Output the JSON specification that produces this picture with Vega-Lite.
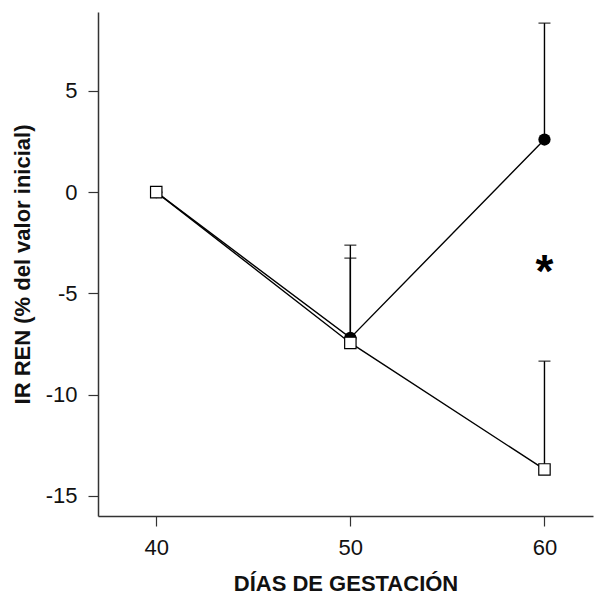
{
  "$schema": "https://vega.github.io/schema/vega-lite/v6.json",
  "width": 495,
  "height": 504,
  "autosize": "none",
  "padding": {"left": 98, "top": 12, "right": 1, "bottom": 84},
  "background": "white",
  "config": {
    "view": {"stroke": null},
    "font": "Liberation Sans",
    "axis": {
      "grid": false,
      "domainColor": "#333",
      "domainWidth": 1.5,
      "tickColor": "#333",
      "tickWidth": 1.2,
      "tickSize": 10,
      "labelFont": "Liberation Sans",
      "labelFontSize": 22,
      "labelColor": "#111",
      "titleFont": "Liberation Sans",
      "titleFontSize": 22,
      "titleFontWeight": "bold",
      "titleColor": "#111"
    }
  },
  "data": {
    "values": [
      {"grupo": "A", "dias": 40, "valor": 0, "sup": 0},
      {"grupo": "A", "dias": 50, "valor": -7.2, "sup": -2.62},
      {"grupo": "A", "dias": 60, "valor": 2.6, "sup": 8.35},
      {"grupo": "B", "dias": 40, "valor": 0, "sup": 0},
      {"grupo": "B", "dias": 50, "valor": -7.45, "sup": -3.26},
      {"grupo": "B", "dias": 60, "valor": -13.7, "sup": -8.35}
    ]
  },
  "encoding": {
    "x": {
      "field": "dias",
      "type": "quantitative",
      "scale": {"domain": [37, 62.5], "nice": false, "zero": false},
      "axis": {"values": [40, 50, 60], "title": "DÍAS DE GESTACIÓN", "labelPadding": 11, "titlePadding": 15}
    }
  },
  "layer": [
    {
      "mark": {"type": "line", "color": "black", "strokeWidth": 1.4},
      "encoding": {
        "y": {
          "field": "valor",
          "type": "quantitative",
          "scale": {"domain": [-16, 8.9], "nice": false, "zero": false},
          "axis": {"values": [-15, -10, -5, 0, 5], "title": "IR REN (% del valor inicial)", "labelPadding": 11, "titlePadding": 11, "labelExpr": "replace(datum.label, '−', '-')"}
        },
        "detail": {"field": "grupo"}
      }
    },
    {
      "transform": [{"filter": "datum.dias > 40"}],
      "mark": {"type": "rule", "color": "black", "strokeWidth": 1.4},
      "encoding": {
        "y": {"field": "valor", "type": "quantitative"},
        "y2": {"field": "sup"}
      }
    },
    {
      "transform": [{"filter": "datum.dias > 40"}],
      "mark": {"type": "tick", "color": "black", "orient": "horizontal", "size": 12, "thickness": 1.4},
      "encoding": {
        "y": {"field": "sup", "type": "quantitative"}
      }
    },
    {
      "transform": [{"filter": "datum.grupo == 'A'"}],
      "mark": {"type": "point", "shape": "circle", "filled": true, "color": "black", "size": 150, "opacity": 1},
      "encoding": {
        "y": {"field": "valor", "type": "quantitative"}
      }
    },
    {
      "transform": [{"filter": "datum.grupo == 'B'"}],
      "mark": {"type": "point", "shape": "square", "filled": true, "fill": "white", "stroke": "black", "strokeWidth": 1.2, "size": 130, "opacity": 1},
      "encoding": {
        "y": {"field": "valor", "type": "quantitative"}
      }
    },
    {
      "data": {"values": [{"dias": 60, "valor": -3.55, "texto": "*"}]},
      "mark": {"type": "text", "fontSize": 46, "fontWeight": "bold", "color": "black", "baseline": "alphabetic", "dy": 23},
      "encoding": {
        "y": {"field": "valor", "type": "quantitative"},
        "text": {"field": "texto"}
      }
    }
  ]
}
